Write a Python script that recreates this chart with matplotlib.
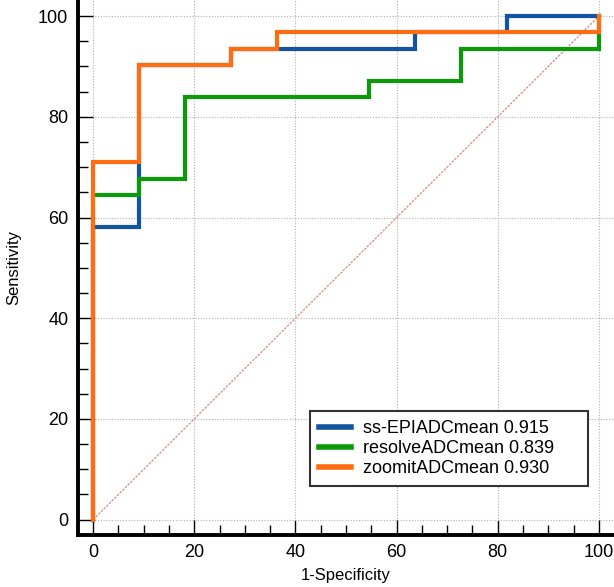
import matplotlib.pyplot as plt
from matplotlib.ticker import MultipleLocator

plt.rcParams['font.family'] = ['Liberation Sans', 'DejaVu Sans']

# ROC steps (1-Specificity %, Sensitivity %)
epi_x = [0, 0, 9.09, 9.09, 27.27, 27.27, 63.64, 63.64, 81.82, 81.82, 100]
epi_y = [0, 58.06, 58.06, 90.32, 90.32, 93.55, 93.55, 96.77, 96.77, 100, 100]

resolve_x = [0, 0, 9.09, 9.09, 18.18, 18.18, 54.55, 54.55, 72.73, 72.73, 100, 100]
resolve_y = [0, 64.52, 64.52, 67.74, 67.74, 83.87, 83.87, 87.10, 87.10, 93.55, 93.55, 100]

zoomit_x = [0, 0, 9.09, 9.09, 27.27, 27.27, 36.36, 36.36, 100, 100]
zoomit_y = [0, 70.97, 70.97, 90.32, 90.32, 93.55, 93.55, 96.77, 96.77, 100]

labels = ["ss-EPIADCmean 0.915", "resolveADCmean 0.839", "zoomitADCmean 0.930"]
colors = ["#12549f", "#0a9a0a", "#ff6c12"]

fig = plt.figure(figsize=(6.14, 5.87), dpi=100)
ax = fig.add_axes([0.127, 0.089, 0.873, 0.911])

ax.grid(True, which='major', color='#b0b0b0', linestyle=(0, (1, 1.5)), linewidth=0.8)
ax.plot([0, 100], [0, 100], color='#d98a8a', linewidth=0.9, linestyle=(0, (2, 1)))

for xs, ys, c, lab in zip([epi_x, resolve_x, zoomit_x], [epi_y, resolve_y, zoomit_y], colors, labels):
    ax.plot(xs, ys, color=c, linewidth=3, label=lab, solid_joinstyle='miter')

ax.set_xlim(-3, 103)
ax.set_ylim(-3, 103.2)
ax.xaxis.set_major_locator(MultipleLocator(20))
ax.yaxis.set_major_locator(MultipleLocator(20))
ax.xaxis.set_minor_locator(MultipleLocator(5))
ax.yaxis.set_minor_locator(MultipleLocator(5))
ax.tick_params(which='both', direction='in', width=1, labelsize=13, pad=7)
ax.tick_params(which='major', length=11)
ax.tick_params(which='minor', length=7)

for s in ['top', 'right']:
    ax.spines[s].set_visible(False)
for s in ['left', 'bottom']:
    ax.spines[s].set_linewidth(2.8)

ax.set_xlabel("1-Specificity", fontsize=12, labelpad=5)
ax.set_ylabel("Sensitivity", fontsize=12, labelpad=12)

leg = ax.legend(loc='lower left', bbox_to_anchor=(42.8, 6.7, 55.0, 15.0), bbox_transform=ax.transData,
                mode='expand', borderaxespad=0, fontsize=13, fancybox=False, framealpha=1,
                edgecolor='#333333', handlelength=1.8, labelspacing=0.15,
                handletextpad=0.65, borderpad=0.5)
leg.get_frame().set_linewidth(1.5)
for h in leg.get_lines():
    h.set_linewidth(4)

fig.savefig("out.png", dpi=100)
